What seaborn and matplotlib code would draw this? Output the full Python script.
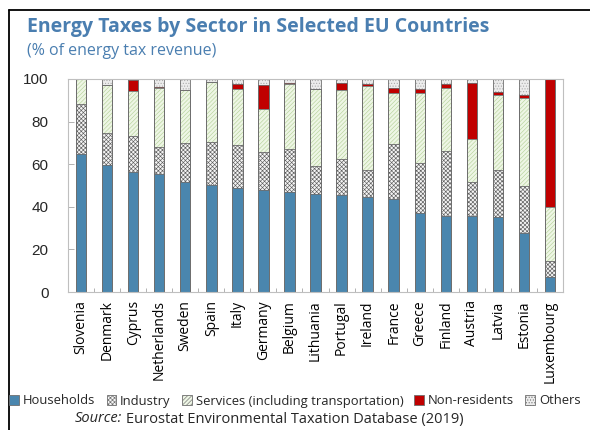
import matplotlib
matplotlib.use("Agg")
import matplotlib.pyplot as plt
from matplotlib.lines import Line2D
from matplotlib.patches import Patch
from matplotlib.ticker import FixedLocator
import numpy as np
import pandas as pd
import seaborn as sns

countries = ["Slovenia", "Denmark", "Cyprus", "Netherlands", "Sweden", "Spain",
             "Italy", "Germany", "Belgium", "Lithuania", "Portugal", "Ireland",
             "France", "Greece", "Finland", "Austria", "Latvia", "Estonia",
             "Luxembourg"]

households = [64.8, 59.5, 56.5, 55.4, 51.6, 50.1, 48.8, 47.7, 46.8, 45.9, 45.4,
              44.6, 43.5, 37.2, 35.6, 35.6, 35.2, 27.6, 7.2]
industry = [23.4, 15.1, 16.8, 12.6, 18.3, 20.4, 20.1, 17.9, 20.2, 13.4, 16.9,
            12.7, 26.0, 23.2, 30.8, 15.9, 22.1, 22.3, 7.2]
services = [11.6, 22.6, 21.0, 27.6, 25.1, 28.2, 26.4, 20.3, 30.5, 36.0, 32.5,
            39.5, 23.9, 33.0, 29.6, 20.2, 35.2, 41.0, 25.3]
non_residents = [0.0, 0.0, 5.0, 0.6, 0.0, 0.0, 2.5, 11.3, 0.6, 0.0, 3.1,
                 1.0, 2.5, 1.9, 1.5, 26.4, 1.5, 1.8, 60.3]
others = [0.2, 2.8, 0.7, 3.8, 5.0, 1.3, 2.2, 2.8, 1.9, 4.7, 2.1,
          2.2, 4.1, 4.7, 2.5, 1.9, 6.0, 7.3, 0.0]

sectors = ["Households", "Industry", "Services (including transportation)",
           "Non-residents", "Others"]
yticks = [0, 20, 40, 60, 80, 100]

df = pd.DataFrame({
    "country": countries,
    "Households": households,
    "Industry": industry,
    "Services (including transportation)": services,
    "Non-residents": non_residents,
    "Others": others,
})
cum = df[sectors].cumsum(axis=1)
cum["country"] = df["country"]

# fill, hatch colour, hatch pattern for each sector
styles = {
    "Households": ("#4a86ae", "#2f5f80", None),
    "Industry": ("#f4f4f4", "#5e5e5e", "xxxxxxxx"),
    "Services (including transportation)": ("#eef6e5", "#b7d39c", "////////"),
    "Non-residents": ("#c00000", "#c00000", None),
    "Others": ("#ececec", "#a8a8a8", "......"),
}

sns.set_theme(style="white")
plt.rcParams["font.family"] = ["Open Sans", "DejaVu Sans"]
plt.rcParams["hatch.linewidth"] = 0.45

fig = plt.figure(figsize=(5.9, 4.3), dpi=100)
ax = fig.add_axes([68 / 590, 1 - 292 / 430, 495 / 590, 213 / 430])

bar_width = 0.4
# cumulative layers drawn from the top down so lower layers sit in front
for sec in reversed(sectors):
    fill, hcol, hatch = styles[sec]
    sns.barplot(data=cum, x="country", y=sec, color=fill, width=bar_width,
                saturation=1, edgecolor=hcol, linewidth=0, ax=ax,
                order=countries)
    for p in ax.containers[-1]:
        p.set_facecolor(fill)
        if hatch:
            p.set_hatch(hatch)
            p.set_edgecolor(hcol)
            p.set_linewidth(0)

# thin outlines around each segment
for sec in reversed(sectors):
    sns.barplot(data=cum, x="country", y=sec, width=bar_width, fill=False,
                edgecolor="#6f6f6f", linewidth=0.6, ax=ax, order=countries)

n = len(countries)
ax.set_xlim(-0.5, n - 0.5)
ax.set_ylim(0, 100)
ax.set_yticks(yticks)
ax.set_yticklabels([str(v) for v in yticks], fontsize=11,
                   family=["Liberation Sans", "DejaVu Sans"])
ax.set_xlabel("")
ax.set_ylabel("")
ax.set_xticks(range(n))
ax.set_xticklabels(countries, rotation=90, fontsize=10)
ax.xaxis.set_minor_locator(FixedLocator(np.arange(n - 1) + 0.5))
ax.tick_params(axis="x", which="major", length=0, pad=6, colors="black")
ax.tick_params(axis="x", which="minor", direction="in", length=3,
               width=0.6, color="#a6a6a6", bottom=True)
ax.tick_params(axis="y", direction="in", length=4, width=0.6,
               color="#a6a6a6", left=True, pad=14)
for s in ax.spines.values():
    s.set_color("#bfbfbf")
    s.set_linewidth(0.8)

# title block
fig.text(27 / 590, 1 - 27 / 430, "Energy Taxes by Sector in Selected EU Countries",
         fontsize=14, fontweight="bold", color="#4a7eb0", va="center")
fig.text(27 / 590, 1 - 51 / 430, "(% of energy tax revenue)",
         fontsize=11.5, color="#4a7eb0", va="center")

# legend
handles = []
for sec in sectors:
    fill, hcol, hatch = styles[sec]
    handles.append(Patch(facecolor=fill, edgecolor="#6f6f6f", linewidth=0.6,
                         hatch=hatch, label=sec))
fig.legend(handles=handles, loc="center", bbox_to_anchor=(0.5, 1 - 401 / 430),
           ncol=5, frameon=False, fontsize=9.4, handlelength=0.75,
           handleheight=0.75, handletextpad=0.3, columnspacing=0.85,
           borderaxespad=0, borderpad=0)

# source note
src = fig.text(75 / 590, 1 - 419 / 430, "Source:", fontsize=10.5,
               style="italic", va="center")
fig.canvas.draw()
bb = src.get_window_extent()
fig.text(bb.x1 / fig.bbox.width + 0.006, 1 - 419 / 430,
         "Eurostat Environmental Taxation Database (2019)", fontsize=10.5,
         va="center")

# frame lines along the top and left edges
fig.add_artist(Line2D([9 / 590, 1], [1 - 10 / 430, 1 - 10 / 430],
                      color="black", linewidth=1.3, transform=fig.transFigure))
fig.add_artist(Line2D([9 / 590, 9 / 590], [0, 1 - 10 / 430],
                      color="black", linewidth=1.3, transform=fig.transFigure))

fig.savefig("out.png", dpi=100)
